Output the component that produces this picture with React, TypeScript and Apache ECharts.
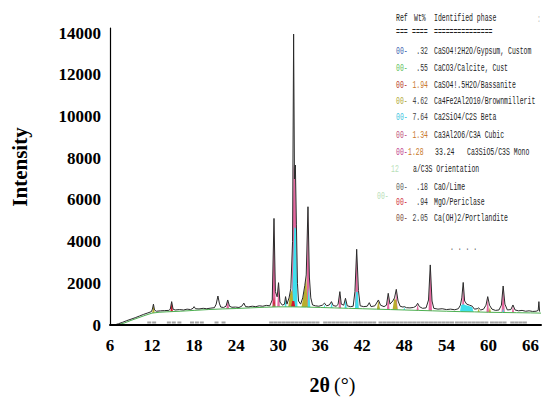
import React, { useEffect, useRef } from "react";
import * as echarts from "echarts";

// ---------- data ----------
const xTickLabels = [6, 12, 18, 24, 30, 36, 42, 48, 54, 60, 66];
const yTickLabels = [0, 2000, 4000, 6000, 8000, 10000, 12000, 14000];

// measured diffraction pattern [2theta, intensity]
const measured: number[][] = [
  [6.8, 20], [7.2, 60], [7.8, 130], [8.4, 210], [9.0, 280], [9.6, 350], [10.2, 430], [10.8, 510],
  [11.4, 580], [11.9, 640], [12.05, 760], [12.2, 1000], [12.35, 720], [12.6, 660], [13.2, 680],
  [13.8, 690], [14.4, 700], [14.6, 760], [14.8, 1120], [15.0, 760], [15.3, 720], [15.9, 740],
  [16.5, 720], [17.0, 760], [17.5, 740], [17.85, 800], [18.0, 880], [18.2, 780], [18.7, 770],
  [19.3, 800], [19.8, 780], [20.4, 810], [20.9, 830], [21.15, 1000], [21.4, 1390], [21.6, 1050],
  [21.8, 860], [22.2, 840], [22.55, 900], [22.8, 1200], [23.05, 900], [23.4, 850], [23.9, 860],
  [24.4, 840], [24.8, 900], [25.1, 1050], [25.35, 880], [25.8, 870], [26.3, 900], [26.8, 880],
  [27.3, 920], [27.8, 900], [28.3, 940], [28.8, 920], [29.15, 1200], [29.4, 5110], [29.6, 1600],
  [29.85, 1350], [30.05, 2030], [30.25, 1100], [30.6, 950], [30.9, 1000], [31.05, 1360],
  [31.25, 1000], [31.55, 1300], [31.8, 1750], [32.05, 4000], [32.2, 13950], [32.32, 7000],
  [32.45, 7670], [32.6, 4800], [32.75, 2000], [32.9, 1150], [33.2, 1000], [33.5, 1300],
  [33.8, 1900], [34.0, 2400], [34.25, 5670], [34.45, 2300], [34.65, 1300], [34.9, 960],
  [35.3, 920], [35.8, 900], [36.3, 950], [36.6, 1050], [36.9, 920], [37.3, 960], [37.6, 1120],
  [37.85, 930], [38.3, 900], [38.55, 1000], [38.8, 1600], [39.0, 1000], [39.35, 950],
  [39.6, 1280], [39.85, 920], [40.3, 880], [40.7, 900], [40.95, 1600], [41.2, 3630],
  [41.45, 1650], [41.7, 920], [42.2, 880], [42.7, 900], [43.0, 1070], [43.25, 880], [43.8, 920],
  [44.3, 1200], [44.6, 950], [45.1, 880], [45.45, 950], [45.7, 1520], [45.95, 1000],
  [46.35, 1150], [46.6, 1300], [46.85, 1710], [47.1, 1150], [47.4, 900], [47.8, 860], [48.0, 880],
  [48.3, 830], [48.8, 820], [49.3, 840], [49.65, 900], [49.9, 1040], [50.15, 880], [50.6, 800],
  [51.1, 820], [51.45, 1200], [51.7, 2880], [51.95, 1150], [52.2, 800], [52.8, 760], [53.4, 780],
  [54.0, 740], [54.6, 760], [55.2, 730], [55.7, 780], [56.0, 950], [56.2, 1300], [56.4, 2040],
  [56.6, 1150], [56.9, 1000], [57.3, 950], [57.7, 900], [58.0, 760], [58.4, 780], [58.6, 820],
  [58.9, 720], [59.3, 760], [59.65, 950], [59.9, 1360], [60.15, 950], [60.5, 760], [61.0, 700],
  [61.5, 720], [61.85, 950], [62.1, 1870], [62.35, 1000], [62.7, 720], [63.2, 740], [63.5, 960],
  [63.8, 720], [64.3, 680], [64.8, 700], [65.3, 660], [65.8, 680], [66.3, 650], [66.8, 660],
  [67.1, 700], [67.2, 1120], [67.3, 640],
];

// fitted background
const background: number[][] = [
  [6.9, 0], [7, 0], [8, 90], [9, 220], [10, 340], [11, 460], [12, 570], [13, 610], [14, 630],
  [16, 660], [18, 700], [20, 740], [22, 770], [24, 790], [26, 820], [28, 850], [30, 870],
  [32, 870], [34, 860], [36, 840], [38, 820], [40, 800], [42, 780], [44, 760], [46, 740],
  [48, 720], [50, 700], [52, 680], [54, 660], [56, 640], [58, 630], [60, 610], [62, 600],
  [64, 590], [66, 580], [67.5, 570],
];

// phase contributions
const c3sMono: number[][] = [
  [22.55, 720], [22.8, 1150], [23.05, 720],
  [29.15, 800], [29.4, 4950], [29.65, 800],
  [29.85, 800], [30.05, 1950], [30.25, 800],
  [31.9, 800], [32.2, 7760], [32.35, 7000], [32.45, 7600], [32.7, 800],
  [34.0, 800], [34.25, 5500], [34.5, 800],
  [38.6, 750], [38.8, 1550], [39.0, 750],
  [40.95, 740], [41.2, 3550], [41.45, 740],
  [45.5, 700], [45.7, 1480], [45.9, 700],
  [46.65, 690], [46.85, 1650], [47.05, 690],
  [49.7, 650], [49.9, 1000], [50.1, 650],
  [51.45, 620], [51.7, 2820], [51.95, 620],
  [56.2, 590], [56.4, 1990], [56.6, 590],
  [59.7, 560], [59.9, 1320], [60.1, 560],
  [61.85, 540], [62.1, 1820], [62.35, 540],
  [63.3, 530], [63.5, 930], [63.7, 530],
];

const c2sBeta: number[][] = [
  [30.9, 800], [31.05, 1330], [31.2, 800],
  [31.95, 800], [32.15, 3000], [32.3, 4700], [32.55, 4600], [32.75, 800],
  [34.15, 800], [34.35, 1800], [34.6, 800],
  [36.45, 780], [36.6, 1000], [36.75, 780],
  [37.45, 770], [37.6, 1080], [37.8, 770],
  [39.45, 750], [39.6, 1250], [39.8, 750],
  [40.95, 740], [41.1, 1600], [41.35, 1580], [41.5, 740],
  [44.1, 710], [44.3, 1000], [44.5, 710],
  [47.85, 680], [48.0, 860], [48.15, 680],
  [55.9, 590], [56.1, 950], [56.4, 1000], [56.8, 950], [57.3, 900], [57.7, 850], [57.9, 590],
  [61.95, 540], [62.1, 800], [62.3, 540],
];

const brownmillerite: number[][] = [
  [12.0, 540], [12.2, 970], [12.4, 540],
  [31.4, 800], [31.7, 1500], [32.0, 1700], [32.2, 800],
  [33.3, 800], [33.7, 1600], [34.0, 2350], [34.2, 800],
  [44.05, 710], [44.3, 1180], [44.55, 710],
  [46.3, 700], [46.55, 1250], [46.85, 1200], [47.05, 700],
  [58.4, 580], [58.6, 790], [58.8, 580],
  [60.0, 560], [60.2, 850], [60.4, 560],
];

const bassanite: number[][] = [
  [14.6, 600], [14.8, 1100], [15.0, 600],
  [29.2, 800], [29.4, 1350], [29.6, 800],
  [31.8, 800], [32.0, 1150], [32.3, 1150], [32.45, 800],
];

const calcite: number[][] = [
  [29.25, 800], [29.4, 1050], [29.55, 800],
];

// reflection position markers (2theta)
const reflections: number[] = [
  11.6, 12.3, 14.4, 15.1, 15.9, 17.7, 18.4, 19.1, 21.2, 22.2,
  29.0, 29.6, 30.2, 30.8, 31.4, 32.0, 32.6, 33.2, 33.8, 34.4, 35.0, 35.6,
  36.7, 37.3, 37.9, 38.5, 39.1, 39.7, 40.3, 40.9, 41.4,
  41.9, 42.5, 43.1, 43.7,
  44.6, 45.2, 45.8, 46.4, 47.0, 47.6, 48.2,
  48.8, 49.4, 50.0, 50.6, 51.2, 51.8, 52.4, 53.0, 53.6, 54.2, 54.8,
  55.5, 56.1, 56.7, 57.3, 57.9, 58.5, 59.1, 59.7,
  60.5, 61.1, 61.7, 62.3,
  63.4, 64.0, 64.6, 65.2,
];
const markerLevel = 120;

// legend (phase table)
const legendPrefixColors = ["#3a5fb0", "#5cc05c", "#b83a2a", "#b0a838", "#3cc4e0", "#c0507a", "#c0408c", "#606060", "#d03040", "#7a4a40"];
const legendWt = [".32", ".55", "1.94", "4.62", "7.64", "1.34", "1.28", ".18", ".94", "2.05"];
const legendWtColors = ["#333", "#333", "#c8782a", "#444", "#444", "#c8782a", "#c8782a", "#333", "#333", "#444"];
const legendExtra = ["", "", "", "", "", "", "33.24", "", "", ""];
const legendNames = [
  "CaSO4!2H2O/Gypsum, Custom",
  "CaCO3/Calcite, Cust",
  "CaSO4!.5H2O/Bassanite",
  "Ca4Fe2Al2O10/Brownmillerit",
  "Ca2SiO4/C2S Beta",
  "Ca3Al2O6/C3A Cubic",
  "Ca3SiO5/C3S Mono",
  "CaO/Lime",
  "MgO/Periclase",
  "Ca(OH)2/Portlandite",
];

// ---------- chart ----------
function buildOption() {
  const mono = '10px "Liberation Mono"';
  const sx = 0.65;
  const ink = "#222";
  const txt = (x: number, y: number, text: string, fill: string, align = "left") => ({
    type: "text",
    x,
    y,
    scaleX: sx,
    silent: true,
    z: 20,
    style: { text, font: mono, fill, align, textAlign: align, verticalAlign: "middle", textVerticalAlign: "middle" },
  });

  const rowsY = [52, 69, 86, 102, 118, 136, 153, 188, 203, 219];
  const legendEls: any[] = [];
  legendEls.push(txt(396, 19, "Ref", ink));
  legendEls.push(txt(414, 19, "Wt%", ink));
  legendEls.push(txt(434, 19, "Identified phase", ink));
  legendEls.push(txt(396, 33, "===", ink));
  legendEls.push(txt(412, 33, "====", ink));
  legendEls.push(txt(434, 33, "===============", ink));
  legendNames.forEach((name, i) => {
    const y = rowsY[i];
    legendEls.push(txt(396, y, "00-", legendPrefixColors[i]));
    if (legendExtra[i]) {
      legendEls.push(txt(408, y, legendWt[i], legendWtColors[i]));
      legendEls.push(txt(435, y, legendExtra[i], ink));
      legendEls.push(txt(467, y, name, ink));
    } else {
      legendEls.push(txt(428, y, legendWt[i], legendWtColors[i], "right"));
      legendEls.push(txt(434, y, name, ink));
    }
  });
  legendEls.push(txt(391, 170, "12", "#b8e0b8"));
  legendEls.push(txt(413, 170, "a/C3S Orientation", ink));
  legendEls.push(txt(377, 197, "00-", "#b8e0b8"));
  legendEls.push(txt(450, 248, ". . . .", "#555"));
  legendEls.push(txt(537, 20, ":", "#bbb"));

  const titleEls = [
    {
      type: "text",
      x: 20,
      y: 167,
      rotation: Math.PI / 2,
      silent: true,
      style: { text: "Intensity", font: 'bold 21px "Liberation Serif"', fill: "#000", align: "center", textAlign: "center", verticalAlign: "middle", textVerticalAlign: "middle" },
    },
    {
      type: "text",
      x: 330,
      y: 385,
      silent: true,
      style: { text: "2θ", font: 'bold 20px "Liberation Serif"', fill: "#000", align: "right", textAlign: "right", verticalAlign: "middle", textVerticalAlign: "middle" },
    },
    {
      type: "text",
      x: 334,
      y: 385,
      silent: true,
      style: { text: "(°)", font: '20px "Liberation Serif"', fill: "#000", align: "left", textAlign: "left", verticalAlign: "middle", textVerticalAlign: "middle" },
    },
  ];

  const area = (name: string, data: number[][], color: string) => ({
    type: "line",
    name,
    data,
    z: 2,
    silent: true,
    showSymbol: false,
    symbol: "none",
    lineStyle: { width: 0, opacity: 0 },
    areaStyle: { color, opacity: 1 },
  });

  const labelStyle = {
    color: "#000",
    fontFamily: '"Liberation Serif", serif',
    fontWeight: "bold",
    fontSize: 17,
  };

  return {
    animation: false,
    backgroundColor: "#ffffff",
    grid: { left: 110, right: 1.5, top: 28, bottom: 74, containLabel: false },
    xAxis: {
      type: "value",
      min: 6,
      max: 67.5,
      interval: 6,
      z: 6,
      axisLine: { show: true, onZero: false, lineStyle: { color: "#000", width: 2 } },
      axisTick: { show: false },
      splitLine: { show: false },
      axisLabel: {
        ...labelStyle,
        margin: 12,
        formatter: (v: number) => (xTickLabels.some((t) => Math.abs(t - v) < 1e-6) ? String(Math.round(v)) : ""),
      },
    },
    yAxis: {
      type: "value",
      min: 0,
      max: 14240,
      interval: 2000,
      z: 6,
      axisLine: { show: true, onZero: false, lineStyle: { color: "#000", width: 1.2 } },
      axisTick: { show: false },
      splitLine: { show: false },
      axisLabel: {
        ...labelStyle,
        margin: 9,
        formatter: (v: number) => (yTickLabels.some((t) => Math.abs(t - v) < 1e-6) ? String(Math.round(v)) : ""),
      },
    },
    series: [
      area("Ca3SiO5/C3S Mono", c3sMono, "#e4679f"),
      area("Ca2SiO4/C2S Beta", c2sBeta, "#3fe0ec"),
      area("Ca4Fe2Al2O10/Brownmillerit", brownmillerite, "#b9ad2e"),
      area("CaSO4!.5H2O/Bassanite", bassanite, "#d2162e"),
      area("CaCO3/Calcite", calcite, "#6cc84c"),
      {
        type: "line",
        name: "Background",
        data: background,
        z: 3,
        silent: true,
        showSymbol: false,
        symbol: "none",
        lineStyle: { color: "#4caf50", width: 1 },
        areaStyle: { color: "#ffffff", opacity: 1 },
      },
      {
        type: "line",
        name: "Measured",
        data: measured,
        z: 4,
        silent: true,
        showSymbol: false,
        symbol: "none",
        lineStyle: { color: "#2a2a2a", width: 1 },
      },
      {
        type: "scatter",
        name: "Reflections",
        data: reflections.map((r) => [r, markerLevel]),
        z: 5,
        silent: true,
        symbol: "rect",
        symbolSize: [4, 2],
        itemStyle: { color: "#8c8c8c" },
      },
    ],
    graphic: { elements: [...legendEls, ...titleEls] },
  };
}

export default function App() {
  const ref = useRef<HTMLDivElement>(null);
  useEffect(() => {
    document.body.style.margin = "0";
    const chart = echarts.init(ref.current as HTMLDivElement, undefined, { renderer: "svg" });
    chart.setOption(buildOption() as any);
    return () => chart.dispose();
  }, []);
  return (
    <div
      ref={ref}
      style={{ position: "fixed", left: 0, top: 0, width: 544, height: 399, background: "#fff" }}
    />
  );
}
